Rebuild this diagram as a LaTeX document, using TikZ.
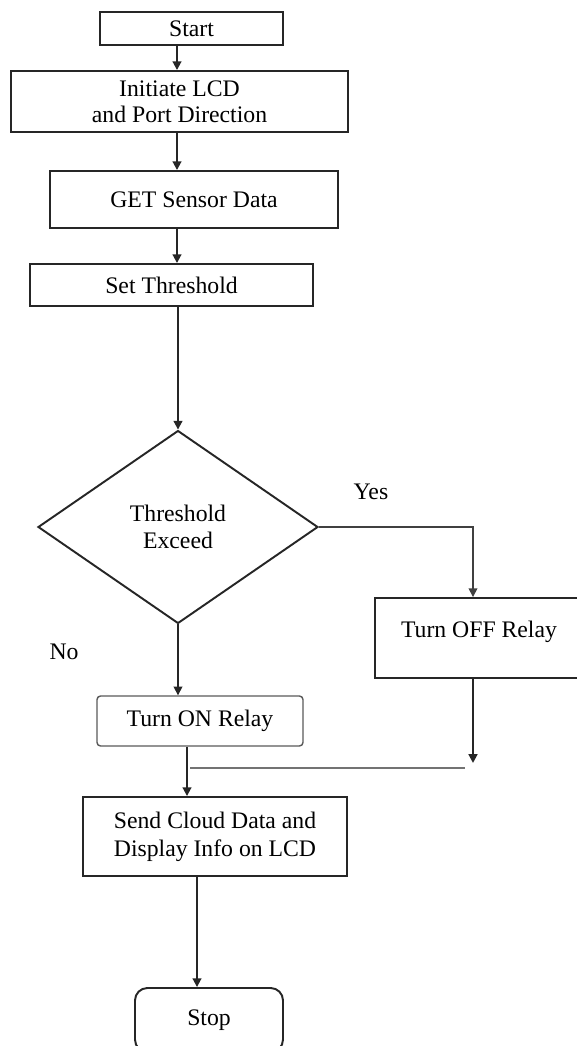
\documentclass[tikz,border=0pt]{standalone}
\usepackage{fontspec}
\setmainfont{Liberation Serif}
\usetikzlibrary{arrows.meta,shapes.geometric,positioning}

\tikzset{
  box/.style={draw=black!85, line width=1.1pt, inner sep=0pt, align=center,
    font=\fontsize{13.5}{15}\selectfont},
  decision/.style={box, diamond, aspect=1.45},
  lbl/.style={font=\fontsize{13.5}{15}\selectfont},
  arr/.style={draw=black!85, line width=1.1pt, -{Triangle[length=5pt,width=5pt]}},
}

\begin{document}
\begin{tikzpicture}[x=0.02cm,y=-0.02cm]
\useasboundingbox (0,0) rectangle (576,1046);
\coordinate (spine) at (177,0);
\coordinate (merge) at (187,0);
\coordinate (tail) at (197,0);
\coordinate (offin) at (473,0);

% main column
\node[box, minimum width=3.66cm, minimum height=0.66cm] (start) at (191.5,28.5) {Start};
\node[box, minimum width=6.74cm, minimum height=1.22cm,
  font=\fontsize{13.5}{14.8}\selectfont] (init) at (179.5,101.5) {Initiate LCD\\and Port Direction};
\node[box, minimum width=5.76cm, minimum height=1.14cm] (sensor) at (194,199.5) {GET Sensor Data};
\node[box, minimum width=5.66cm, minimum height=0.84cm] (thresh) at (171.5,285) {Set Threshold};
\node[decision, minimum width=5.6cm, minimum height=3.86cm,
  font=\fontsize{13.5}{15.5}\selectfont] (dec) at (178,527) {Threshold\\Exceed};

% the two branches
\node[box, minimum width=4.08cm, minimum height=1.6cm] (off) at (477,638) {};
\node[lbl] (offtxt) at (479,632) {Turn OFF Relay};
\node[box, draw=black!65, line width=.8pt, rounded corners=2pt,
  minimum width=4.12cm, minimum height=1.0cm] (on) at (200,721) {Turn ON Relay};

\node[box, minimum width=5.28cm, minimum height=1.58cm,
  font=\fontsize{13.5}{15.9}\selectfont] (send) at (215,836.5) {Send Cloud Data and\\Display Info on LCD};
\node[box, rounded corners=7pt, minimum width=2.96cm, minimum height=1.28cm] (stop) at (209,1020) {Stop};

\node[lbl] (yes) at (371,492) {Yes};
\node[lbl] (no) at (64,652) {No};

\coordinate (joinR) at (473,763);
\coordinate (joinL) at (190,768);
\coordinate (joinE) at (465,768);

\draw[arr] (start.south -| spine) -- (init.north -| spine);
\draw[arr] (init.south -| spine) -- (sensor.north -| spine);
\draw[arr] (sensor.south -| spine) -- (thresh.north -| spine);
\draw[arr] (thresh.south -| dec.north) -- (dec.north);
\draw[arr, draw=black!75, line width=.9pt] (dec.east) -| (off.north -| offin);
\draw[arr, line width=.9pt] (dec.south) -- (dec.south |- on.north);
\draw[arr] (off.south -| offin) -- (joinR);
\draw[black!55, line width=.8pt] (joinL) -- (joinE);
\draw[arr] (on.south -| merge) -- (send.north -| merge);
\draw[arr] (send.south -| tail) -- (stop.north -| tail);
\end{tikzpicture}
\end{document}
